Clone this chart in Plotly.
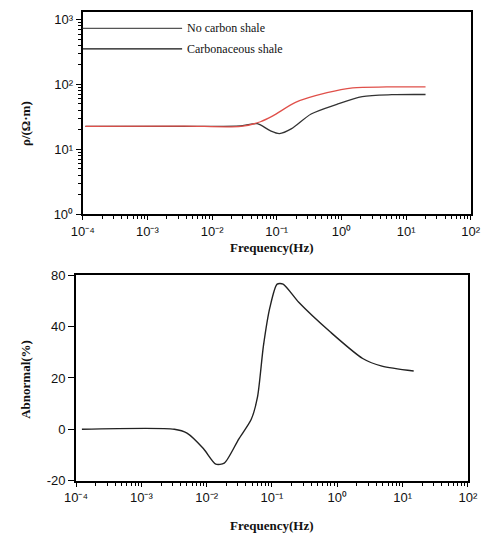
import plotly.graph_objects as go

# ---------------- data ----------------
# top panel: apparent resistivity vs frequency
freq_nocarbon = [1.1e-4, 3.7e-3, 0.028, 0.056, 0.087, 0.195, 0.60, 1.5, 5.0, 20]
rho_nocarbon = [22.6, 22.8, 22.6, 26.6, 32.7, 53, 74.8, 88.9, 91.5, 92]

freq_carbon = [1.1e-4, 3.7e-3, 0.028, 0.050, 0.079, 0.11, 0.17, 0.34, 0.85, 2.1, 6.0, 20]
rho_carbon = [22.6, 22.6, 23.0, 24.8, 19.4, 17.5, 20.8, 35, 49.4, 65, 69.5, 70]

# bottom panel: anomaly (%) vs frequency
freq_anom = [1.23e-4, 3.2e-3, 5.0e-3, 8.9e-3, 0.0138, 0.0186, 0.031, 0.048, 0.060,
             0.074, 0.093, 0.12, 0.148, 0.257, 0.785, 2.45, 4.84, 14.8]
anom = [0, 0, -1.5, -7.5, -13.6, -13.2, -3.8, 3.8, 12.5,
        32.5, 47.5, 56.6, 56.6, 49.5, 37.9, 27.6, 24.6, 22.7]

x_tickvals = [1e-4, 1e-3, 1e-2, 1e-1, 1, 10, 100]
x_ticktext = ["10⁻⁴", "10⁻³", "10⁻²", "10⁻¹", "10⁰", "10¹", "10²"]
y1_tickvals = [1, 10, 100, 1000]
y1_ticktext = ["10⁰", "10¹", "10²", "10³"]
y2_tickvals = [-20, 0, 20, 40, 60]
y2_ticktext = ["-20", "0", "20", "40", "80"]

legend_names = ["No carbon shale", "Carbonaceous shale"]

# ---------------- figure ----------------
W, H = 497, 544
fig = go.Figure()

fig.add_trace(go.Scatter(x=freq_carbon, y=rho_carbon, mode="lines",
                         line=dict(color="#333333", width=1.3, shape="spline", smoothing=0.8),
                         xaxis="x", yaxis="y", showlegend=False))
fig.add_trace(go.Scatter(x=freq_nocarbon, y=rho_nocarbon, mode="lines",
                         line=dict(color="#e0504a", width=1.3, shape="spline", smoothing=0.8),
                         xaxis="x", yaxis="y", showlegend=False))
fig.add_trace(go.Scatter(x=freq_anom, y=anom, mode="lines",
                         line=dict(color="#222222", width=1.4, shape="spline", smoothing=0.7),
                         xaxis="x2", yaxis="y2", showlegend=False))

minor_x = [m * 10.0 ** k for k in range(-4, 2) for m in range(2, 10)]
minor_y = [m * 10.0 ** k for k in range(0, 3) for m in range(2, 10)]

tickfont = dict(family="Liberation Sans", size=13, color="#111")
axis_common = dict(showline=True, linecolor="black", linewidth=2, mirror=True,
                   ticks="outside", tickcolor="black", showgrid=False, zeroline=False,
                   tickfont=tickfont)

fig.update_layout(
    width=W, height=H,
    margin=dict(l=0, r=0, t=0, b=0),
    paper_bgcolor="white", plot_bgcolor="white",
    xaxis=dict(type="log", domain=[74 / W, 480 / W], range=[-4, 2], anchor="y",
               tickmode="array", tickvals=x_tickvals, ticktext=x_ticktext, ticklen=4,
               minor=dict(tickmode="array", tickvals=minor_x, ticks="outside", ticklen=3,
                          tickcolor="black"),
               **axis_common),
    yaxis=dict(type="log", domain=[1 - 213 / H, 1 - 5 / H], range=[0, 3.12], anchor="x",
               tickmode="array", tickvals=y1_tickvals, ticktext=y1_ticktext, ticklen=5,
               minor=dict(tickmode="array", tickvals=minor_y, ticks="outside", ticklen=3,
                          tickcolor="black"),
               **axis_common),
    xaxis2=dict(type="log", domain=[67 / W, 477 / W], range=[-4, 2], anchor="y2",
                tickmode="array", tickvals=x_tickvals, ticktext=x_ticktext, ticklen=4,
                minor=dict(tickmode="array", tickvals=minor_x, ticks="outside", ticklen=3,
                           tickcolor="black"),
                **axis_common),
    yaxis2=dict(domain=[1 - 487 / H, 1 - 276 / H], range=[-20, 60], anchor="x2",
                tickmode="array", tickvals=y2_tickvals, ticktext=y2_ticktext, ticklen=6,
                **axis_common),
)

# legend drawn as long line samples with labels
legend_colors = ["#555555", "#111111"]
legend_y = [22, 43]
for name, col, ly in zip(legend_names, legend_colors, legend_y):
    fig.add_shape(type="line", xref="paper", yref="paper",
                  x0=74 / W, x1=178 / W, y0=1 - ly / H, y1=1 - ly / H,
                  line=dict(color=col, width=1.3))
    fig.add_annotation(x=181 / W, y=1 - ly / H, xref="paper", yref="paper",
                       text=name, showarrow=False, xanchor="left", yanchor="middle",
                       font=dict(family="Liberation Serif", size=12, color="#111"))

title_font = dict(family="Liberation Serif", size=13, color="#111")
fig.add_annotation(x=272 / W, y=1 - 247 / H, xref="paper", yref="paper",
                   text="<b>Frequency(Hz)</b>", showarrow=False,
                   xanchor="center", yanchor="middle", font=title_font)
fig.add_annotation(x=272 / W, y=1 - 533 / H, xref="paper", yref="paper",
                   text="<b>Frequency(Hz)</b>", showarrow=False,
                   xanchor="center", yanchor="middle", font=title_font)
fig.add_annotation(x=14 / W, y=1 - 120 / H, xref="paper", yref="paper",
                   text="<b>ρ/(Ω·m)</b>", showarrow=False, textangle=-90,
                   xanchor="center", yanchor="middle", font=title_font)
fig.add_annotation(x=14 / W, y=1 - 383 / H, xref="paper", yref="paper",
                   text="<b>Abnormal(%)</b>", showarrow=False, textangle=-90,
                   xanchor="center", yanchor="middle", font=title_font)

fig.write_html("out.html")
